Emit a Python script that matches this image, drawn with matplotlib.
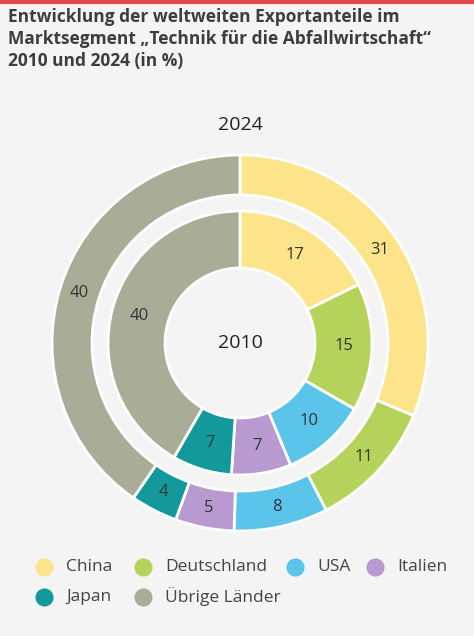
import matplotlib.pyplot as plt

categories = ["China", "Deutschland", "USA", "Italien", "Japan", "Übrige Länder"]
values_2024 = [31, 11, 8, 5, 4, 40]
values_2010 = [17, 15, 10, 7, 7, 40]
colors = ["#fde38a", "#b5d35a", "#5bc4ea", "#b99ad0", "#13999c", "#a9ad98"]

W, H = 474, 636
fig = plt.figure(figsize=(W / 100, H / 100), dpi=100)
fig.patch.set_facecolor("#f4f4f4")
font = "Open Sans"

# red top rule
fig.add_artist(plt.Line2D([0, 1], [1 - 2 / H, 1 - 2 / H], color="#e2474b", lw=3))
fig.text(8 / W, 1 - 8 / H,
         "Entwicklung der weltweiten Exportanteile im\n"
         "Marktsegment \u201eTechnik für die Abfallwirtschaft\u201c\n"
         "2010 und 2024 (in %)",
         ha="left", va="top", fontsize=12.5, fontweight="bold",
         color="#3d3d3d", family=font, linespacing=1.3)

cx, cy, half = 240, 343, 200
ax = fig.add_axes([(cx - half) / W, (H - cy - half) / H, 2 * half / W, 2 * half / H])
ax.set_xlim(-half, half)
ax.set_ylim(-half, half)
ax.set_aspect("equal")
ax.axis("off")

wp = dict(edgecolor="white", linewidth=2)
ax.pie(values_2024, radius=188, colors=colors, startangle=90, counterclock=False,
       wedgeprops=dict(width=40, **wp), labels=[str(v) for v in values_2024],
       labeldistance=(188 - 20) / 188, textprops=dict(fontsize=12, color="#333333", family=font, ha="center", va="center"))
ax.pie(values_2010, radius=132, colors=colors, startangle=90, counterclock=False,
       wedgeprops=dict(width=57, **wp), labels=[str(v) for v in values_2010],
       labeldistance=(132 - 28) / 132, textprops=dict(fontsize=12, color="#333333", family=font, ha="center", va="center"))
ax.set_xlim(-half, half)
ax.set_ylim(-half, half)
ax.text(0, 0, "2010", ha="center", va="center", fontsize=14, color="#222222", family=font)
fig.text(cx / W, 1 - 125 / H, "2024", ha="center", va="center", fontsize=14, color="#222222", family=font)

legend_pos = [(44, 567), (143, 567), (295, 567), (375, 567), (44, 597), (143, 597)]
for (lx, ly), cat, col in zip(legend_pos, categories, colors):
    fig.add_artist(plt.Line2D([lx / W], [1 - ly / H], marker="o", markersize=12,
                              color=col, linestyle="none"))
    fig.text((lx + 22) / W, 1 - ly / H, cat, ha="left", va="center",
             fontsize=12.5, color="#444444", family=font)

fig.savefig("out.png", dpi=100, facecolor=fig.get_facecolor())
